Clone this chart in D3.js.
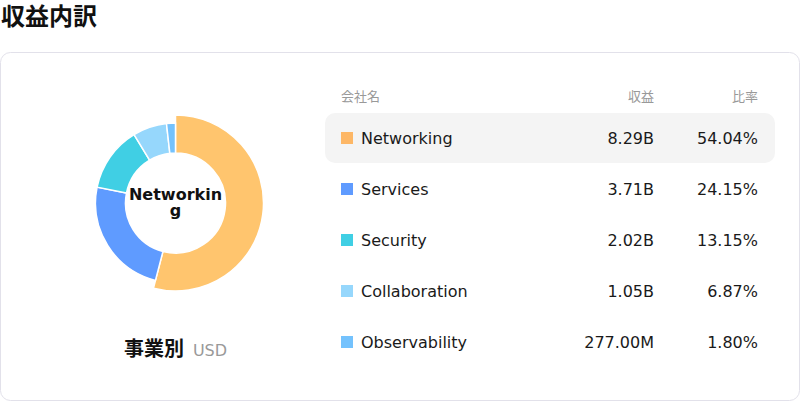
<!DOCTYPE html>
<html>
<head>
<meta charset="utf-8">
<script src="https://cdn.jsdelivr.net/npm/d3@7"></script>
<style>
  body { margin: 0; background: #fff; }
  svg { display: block; font-family: "DejaVu Sans", "Noto Sans CJK JP", sans-serif; }
</style>
</head>
<body>
<svg id="chart" width="800" height="402"></svg>
<script>
var width = 800;
var height = 402;

// data
var segments = ['Networking', 'Services', 'Security', 'Collaboration', 'Observability'];
var revenue = [8.29e9, 3.71e9, 2.02e9, 1.05e9, 277.00e6];
var shares = [54.04, 24.15, 13.15, 6.87, 1.80];
var colors = ['#fdb766', '#5f9bff', '#40cfe4', '#96d7fc', '#74c2fd'];
var headers = ['会社名', '収益', '比率'];
var activeIndex = 0;

var svg = d3.select('#chart');

function fmtRevenue(v) {
    if (v >= 1e9) return (v / 1e9).toFixed(2) + 'B';
    return (v / 1e6).toFixed(2) + 'M';
}

// title
svg.append('text')
    .attr('x', 1)
    .attr('y', 25)
    .style('font-family', '"Noto Sans CJK JP", sans-serif')
    .style('font-size', '24px')
    .style('font-weight', 'bold')
    .attr('fill', '#111')
    .text('収益内訳');

// card
svg.append('rect')
    .attr('x', 0.5)
    .attr('y', 52.5)
    .attr('width', 799)
    .attr('height', 348)
    .attr('rx', 10)
    .attr('fill', '#fff')
    .attr('stroke', '#e2e1ea');

// donut
var cx = 175.5, cy = 203;
var inner = 50, outer = 80, outerActive = 88;

var pie = d3.pie().sort(null).value(function(d) { return d; });
var arc = d3.arc().innerRadius(inner);

var donut = svg.append('g').attr('transform', 'translate(' + cx + ',' + cy + ')');

donut.selectAll('path')
    .data(pie(shares))
    .join('path')
    .attr('d', function(d, i) {
        return arc.outerRadius(i == activeIndex ? outerActive : outer)(d);
    })
    .attr('fill', function(d, i) {
        return i == activeIndex ? d3.color(colors[i]).brighter(0.2) : colors[i];
    })
    .attr('stroke', '#fff')
    .attr('stroke-width', 1.5);

// center label, wrapped by characters to fit the hole
var centerText = donut.append('text')
    .attr('text-anchor', 'middle')
    .style('font-size', '16px')
    .style('font-weight', 'bold')
    .attr('fill', '#111');

var word = segments[activeIndex];
var lines = [];
var line = '';
var probe = centerText.append('tspan');
for (var ch of word) {
    probe.text(line + ch);
    if (probe.node().getComputedTextLength() > inner * 2 && line.length) {
        lines.push(line);
        line = ch;
    } else {
        line += ch;
    }
}
lines.push(line);
probe.remove();

var lineH = 16;
centerText.selectAll('tspan')
    .data(lines)
    .join('tspan')
    .attr('x', 0)
    .attr('y', function(d, i) { return (i - (lines.length - 1) / 2) * lineH + 5; })
    .text(function(d) { return d; });

// caption under donut
var caption = svg.append('text')
    .attr('x', cx)
    .attr('y', 356)
    .attr('text-anchor', 'middle');
caption.append('tspan')
    .style('font-family', '"Noto Sans CJK JP", sans-serif')
    .style('font-size', '20px')
    .style('font-weight', 'bold')
    .attr('fill', '#111')
    .text('事業別');
caption.append('tspan')
    .attr('dx', 9)
    .style('font-size', '16px')
    .attr('fill', '#999')
    .text('USD');

// table
var rowY = d3.scaleBand()
    .domain(segments)
    .range([113, 113 + 51 * segments.length]);

var colX = [341, 654, 758];

svg.append('g').selectAll('text')
    .data(headers)
    .join('text')
    .attr('x', function(d, i) { return colX[i]; })
    .attr('y', 95.5)
    .attr('dominant-baseline', 'central')
    .attr('text-anchor', function(d, i) { return i == 0 ? 'start' : 'end'; })
    .style('font-family', '"Noto Sans CJK JP", sans-serif')
    .style('font-size', '13px')
    .attr('fill', '#999')
    .text(function(d) { return d; });

svg.append('rect')
    .attr('x', 325)
    .attr('y', rowY(segments[activeIndex]))
    .attr('width', 450)
    .attr('height', rowY.bandwidth() - 1)
    .attr('rx', 10)
    .attr('fill', '#f4f4f4');

var rows = svg.append('g').selectAll('g')
    .data(segments)
    .join('g')
    .attr('transform', function(d) {
        return 'translate(0,' + (rowY(d) + rowY.bandwidth() / 2 - 0.5) + ')';
    });

rows.append('rect')
    .attr('x', colX[0])
    .attr('y', -6)
    .attr('width', 12)
    .attr('height', 12)
    .attr('fill', function(d, i) { return colors[i]; });

rows.append('text')
    .attr('x', colX[0] + 20)
    .attr('dy', '0.36em')
    .style('font-size', '16px')
    .attr('fill', '#1a1a1a')
    .text(function(d) { return d; });

rows.append('text')
    .attr('x', colX[1])
    .attr('dy', '0.36em')
    .attr('text-anchor', 'end')
    .style('font-size', '16px')
    .attr('fill', '#1a1a1a')
    .text(function(d, i) { return fmtRevenue(revenue[i]); });

rows.append('text')
    .attr('x', colX[2])
    .attr('dy', '0.36em')
    .attr('text-anchor', 'end')
    .style('font-size', '16px')
    .attr('fill', '#1a1a1a')
    .text(function(d, i) { return shares[i].toFixed(2) + '%'; });
</script>
</body>
</html>
